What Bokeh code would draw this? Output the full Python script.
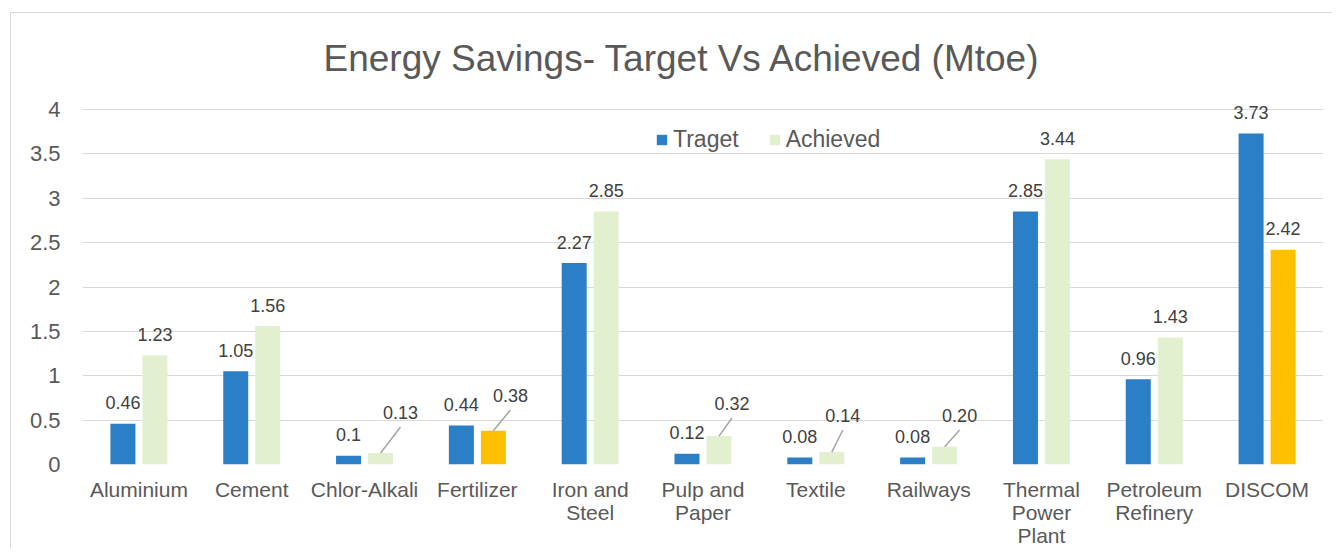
from bokeh.plotting import figure
from bokeh.models import (ColumnDataSource, Range1d, FixedTicker, LabelSet,
                          Legend, LegendItem)
from bokeh.core.properties import value
from bokeh.embed import file_html
from bokeh.resources import INLINE

# ---- data ----
categories = ["Aluminium", "Cement", "Chlor-Alkali", "Fertilizer", "Iron and\nSteel",
              "Pulp and\nPaper", "Textile", "Railways", "Thermal\nPower\nPlant",
              "Petroleum\nRefinery", "DISCOM"]
target = [0.46, 1.05, 0.10, 0.44, 2.27, 0.12, 0.08, 0.08, 2.85, 0.96, 3.73]
achieved = [1.23, 1.56, 0.13, 0.38, 2.85, 0.32, 0.14, 0.20, 3.44, 1.43, 2.42]
target_text = ["0.46", "1.05", "0.1", "0.44", "2.27", "0.12", "0.08", "0.08", "2.85", "0.96", "3.73"]
achieved_text = ["1.23", "1.56", "0.13", "0.38", "2.85", "0.32", "0.14", "0.20", "3.44", "1.43", "2.42"]
y_ticks = [0, 0.5, 1, 1.5, 2, 2.5, 3, 3.5, 4]
y_tick_labels = ["0", "0.5", "1", "1.5", "2", "2.5", "3", "3.5", "4"]

# ---- style ----
BLUE = "#2A7FC7"
GREEN = "#E2F0D0"
GOLD = "#FFC000"
highlight = {"Fertilizer", "DISCOM"}
# leader-line labels: (dx, dy) in data units from the bar top
leader = {"Chlor-Alkali": (0.177, 0.456), "Fertilizer": (0.151, 0.398),
          "Pulp and\nPaper": (0.115, 0.367), "Textile": (0.0975, 0.412),
          "Railways": (0.133, 0.353)}
LEADER_GAP = 14.5 / 88.75
OFF = 0.1418
BW = 0.2216
FONT = "Liberation Sans"

n = len(categories)
idx = list(range(n))
xt = [i - OFF for i in idx]
xa = [i + OFF for i in idx]
acolors = [GOLD if c in highlight else GREEN for c in categories]

src_t = ColumnDataSource(dict(x=xt, top=target, text=target_text))
src_a = ColumnDataSource(dict(x=xa, top=achieved, text=achieved_text, color=acolors))

norm_a = [i for i, c in enumerate(categories) if c not in leader]
lead_a = [i for i, c in enumerate(categories) if c in leader]
src_an = ColumnDataSource(dict(x=[xa[i] for i in norm_a], y=[achieved[i] for i in norm_a],
                               text=[achieved_text[i] for i in norm_a]))
src_al = ColumnDataSource(dict(
    x=[xa[i] + leader[categories[i]][0] for i in lead_a],
    y=[achieved[i] + leader[categories[i]][1] for i in lead_a],
    text=[achieved_text[i] for i in lead_a]))
src_seg = ColumnDataSource(dict(
    x0=[xa[i] for i in lead_a], y0=[achieved[i] for i in lead_a],
    x1=[xa[i] + leader[categories[i]][0] for i in lead_a],
    y1=[achieved[i] + leader[categories[i]][1] - LEADER_GAP for i in lead_a]))

p = figure(width=1322, height=536, output_backend="svg", toolbar_location=None,
           x_range=Range1d(-0.5, n - 0.5), y_range=Range1d(0, 4.35),
           min_border_left=71, min_border_right=10, min_border_top=65, min_border_bottom=85)
p.styles = {"margin-left": "10px", "margin-top": "12px",
            "border-left": "1px solid #D9D9D9", "border-top": "1px solid #D9D9D9"}
p.outline_line_color = None
p.background_fill_color = "white"
p.border_fill_color = "white"

p.title.text = "Energy Savings- Target Vs Achieved (Mtoe)"
p.title.align = "left"
p.title.offset = 241
p.title.standoff = 0
p.title.text_font = FONT
p.title.text_font_size = "37px"
p.title.text_font_style = "normal"
p.title.text_color = "#595959"

rt = p.vbar(x="x", top="top", width=BW, bottom=0, source=src_t, fill_color=BLUE, line_color=None)
ra = p.vbar(x="x", top="top", width=BW, bottom=0, source=src_a, fill_color="color", line_color=None)

p.segment(x0="x0", y0="y0", x1="x1", y1="y1", source=src_seg, line_color="#A6A6A6", line_width=1.5)

lab_kw = dict(text_font=value(FONT), text_font_size="18px", text_color="#404040",
              text_align="center", text_baseline="middle")
p.add_layout(LabelSet(x="x", y="top", text="text", source=src_t, y_offset=21, **lab_kw))
p.add_layout(LabelSet(x="x", y="y", text="text", source=src_an, y_offset=21, **lab_kw))
p.add_layout(LabelSet(x="x", y="y", text="text", source=src_al, **lab_kw))

# axes
p.xgrid.visible = False
p.ygrid.ticker = FixedTicker(ticks=y_ticks)
p.ygrid.grid_line_color = "#D9D9D9"
p.ygrid.grid_line_width = 1

p.yaxis.ticker = FixedTicker(ticks=y_ticks)
p.yaxis.major_label_overrides = {t: l for t, l in zip(y_ticks, y_tick_labels)}
p.yaxis.axis_line_color = None
p.yaxis.major_tick_line_color = None
p.yaxis.minor_tick_line_color = None
p.yaxis.major_tick_out = 0
p.yaxis.major_label_standoff = 22
p.yaxis.major_label_text_font = FONT
p.yaxis.major_label_text_font_size = "22px"
p.yaxis.major_label_text_color = "#595959"

p.xaxis.ticker = FixedTicker(ticks=idx)
p.xaxis.major_label_overrides = {i: c for i, c in zip(idx, categories)}
p.xaxis.axis_line_color = None
p.xaxis.major_tick_line_color = None
p.xaxis.minor_tick_line_color = None
p.xaxis.major_tick_out = 0
p.xaxis.major_label_standoff = 13
p.xaxis.major_label_text_font = FONT
p.xaxis.major_label_text_font_size = "21px"
p.xaxis.major_label_text_line_height = 1.0
p.xaxis.major_label_text_color = "#595959"

legend = Legend(items=[LegendItem(label="Traget", renderers=[rt], index=0),
                       LegendItem(label="Achieved", renderers=[ra], index=0)],
                orientation="horizontal", location=(573, 311),
                glyph_width=13, glyph_height=13, label_standoff=5, spacing=29,
                padding=0, margin=0, border_line_color=None, background_fill_alpha=0,
                label_text_font=FONT, label_text_font_size="23px", label_text_color="#595959")
p.add_layout(legend)

open("out.html", "w").write(file_html(p, INLINE))
